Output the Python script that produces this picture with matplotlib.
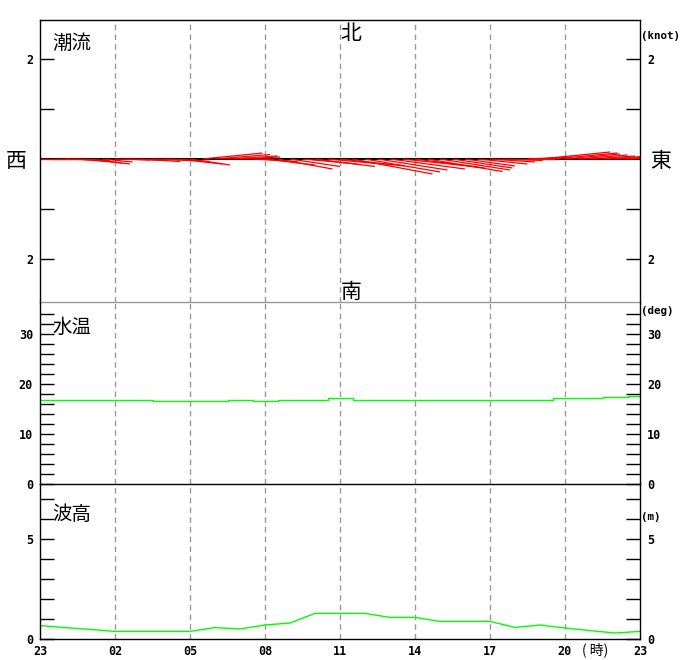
import numpy as np
import matplotlib.pyplot as plt

plt.rcParams['font.family'] = ['DejaVu Sans Mono', 'Noto Sans CJK JP']

# hours after 23:00
hours = np.arange(25)
hour_ticks = np.arange(0, 25, 3)
hour_labels = ['23', '02', '05', '08', '11', '14', '17', '20', '23']

# current sticks every 30 min: east / north components (knot)
stick_t = np.arange(48) * 0.5
stick_u = [0.6, 0.7, 0.9, 0.9, 0.8, 0.6, 0.7, 0.8, 0.8, 0.8, 0.9, 0.9,
           0.8, 1.2, 1.1, 1.0, 0.8, 0.9, 1.0, 1.1, 1.0, 1.1, 1.2, 1.3,
           1.3, 1.6, 1.5, 1.4, 1.5, 1.5, 1.4, 1.5, 1.4, 1.2, 1.0, 1.0,
           0.9, 0.8, 0.8, 0.9, 1.4, 1.3, 1.1, 1.0, 0.9, 0.8, 0.7, 0.6]
stick_v = [0.0, 0.0, -0.03, -0.08, -0.1, -0.06, -0.02, -0.03, -0.05, -0.03, -0.05, -0.1,
           -0.12, 0.12, 0.09, 0.06, 0.04, -0.05, -0.12, -0.2, -0.15, -0.1, -0.15, -0.12,
           -0.14, -0.3, -0.26, -0.22, -0.2, -0.16, -0.18, -0.25, -0.22, -0.18, -0.14, -0.1,
           -0.06, -0.03, 0.0, 0.04, 0.14, 0.12, 0.1, 0.08, 0.06, 0.05, 0.04, 0.03]

# water temperature (deg), hourly
water_temp = [16.9, 16.9, 16.9, 16.9, 16.9, 16.65, 16.65, 16.65, 16.9, 16.65,
              16.9, 16.9, 17.2, 16.9, 16.9, 16.9, 16.9, 16.9, 16.9, 16.9,
              16.9, 17.2, 17.2, 17.45, 17.7]

# wave height (m), hourly
wave_height = [0.67, 0.57, 0.48, 0.38, 0.38, 0.38, 0.38, 0.57, 0.5, 0.7,
               0.8, 1.28, 1.28, 1.28, 1.08, 1.08, 0.88, 0.88, 0.88, 0.58,
               0.7, 0.55, 0.42, 0.3, 0.38]

W, H = 680, 660
fig = plt.figure(figsize=(W / 100, H / 100), dpi=100)


def box(y0, y1):
    return [40 / W, 1 - y1 / H, 600 / W, (y1 - y0) / H]


ax1 = fig.add_axes(box(20, 302))
ax2 = fig.add_axes(box(302, 484))
ax3 = fig.add_axes(box(484, 639))

tick_font = dict(family='DejaVu Sans Mono', weight='bold', size=8.5)
unit_font = dict(family='DejaVu Sans Mono', weight='bold', size=7.8)
cjk = ['Noto Sans CJK JP', 'DejaVu Sans']

for ax in (ax1, ax2, ax3):
    ax.set_xlim(0, 24)
    ax.patch.set_visible(False)
    for s in ax.spines.values():
        s.set_linewidth(1.0)
        s.set_color('black')
    for t in hour_ticks[1:-1]:
        ax.axvline(t, color='#999999', lw=1.0, ls=(0, (4, 3)), zorder=0)
    ax.tick_params(axis='y', direction='in', length=10, width=1.0,
                   left=True, right=True, labelleft=True, labelright=True, pad=5)
    ax.tick_params(axis='x', length=0)

# --- current ---
ax1.set_ylim(-2.86, 2.78)
ax1.set_yticks([-2, -1, 1, 2])
ax1.set_yticklabels(['2', '', '', '2'], **tick_font)
ax1.set_xticks([])
ax1.spines['bottom'].set_color('#999999')
ax1.axhline(0, color='black', lw=1.5, zorder=1)
# stick length: same pixel scale on both axes
px_knot = 282 / (2.86 + 2.78)
px_hour = 600 / 24
k = px_knot / px_hour
for t, u, v in zip(stick_t, stick_u, stick_v):
    ax1.plot([t, t + u * k], [0, v], color='red', lw=0.9, zorder=2,
             solid_capstyle='butt')
ax1.text(0.02, 0.918, '潮流', transform=ax1.transAxes, family=cjk, fontsize=14,
         ha='left', va='center')

# --- water temperature ---
ax2.set_ylim(0, 36.4)
ax2.set_yticks(np.arange(0, 35, 2))
ax2.set_yticklabels([str(v) if v % 10 == 0 else '' for v in np.arange(0, 35, 2)],
                    **tick_font)
ax2.set_xticks([])
ax2.spines['top'].set_visible(False)
ax2.plot(hours, water_temp, color='#00ff00', lw=1.0, drawstyle='steps-mid')
ax2.text(0.02, 0.86, '水温', transform=ax2.transAxes, family=cjk, fontsize=14,
         ha='left', va='center')

# --- wave height ---
ax3.set_ylim(0, 7.75)
ax3.set_yticks(np.arange(0, 8))
ax3.set_yticklabels([str(v) if v % 5 == 0 else '' for v in range(8)], **tick_font)
ax3.spines['top'].set_visible(False)
ax3.plot(hours, wave_height, color='#00ff00', lw=1.0)
ax3.set_xticks(hour_ticks)
ax3.set_xticklabels(hour_labels, **tick_font)
ax3.tick_params(axis='x', pad=4)
ax3.text(0.02, 0.80, '波高', transform=ax3.transAxes, family=cjk, fontsize=14,
         ha='left', va='center')

# compass and unit labels
fig.text(351 / W, 1 - 34 / H, '北', family=cjk, fontsize=15, ha='center', va='center')
fig.text(351 / W, 1 - 292 / H, '南', family=cjk, fontsize=15, ha='center', va='center')
fig.text(16 / W, 1 - 161 / H, '西', family=cjk, fontsize=15, ha='center', va='center')
fig.text(661 / W, 1 - 161 / H, '東', family=cjk, fontsize=15, ha='center', va='center')
fig.text(641 / W, 1 - 36 / H, '(knot)', ha='left', va='center', **unit_font)
fig.text(641 / W, 1 - 311 / H, '(deg)', ha='left', va='center', **unit_font)
fig.text(641 / W, 1 - 517 / H, '(m)', ha='left', va='center', **unit_font)
fig.text(595 / W, 1 - 650 / H, '( 時)', family=cjk, fontsize=10, ha='center', va='center')

fig.savefig('out.png', dpi=100)
